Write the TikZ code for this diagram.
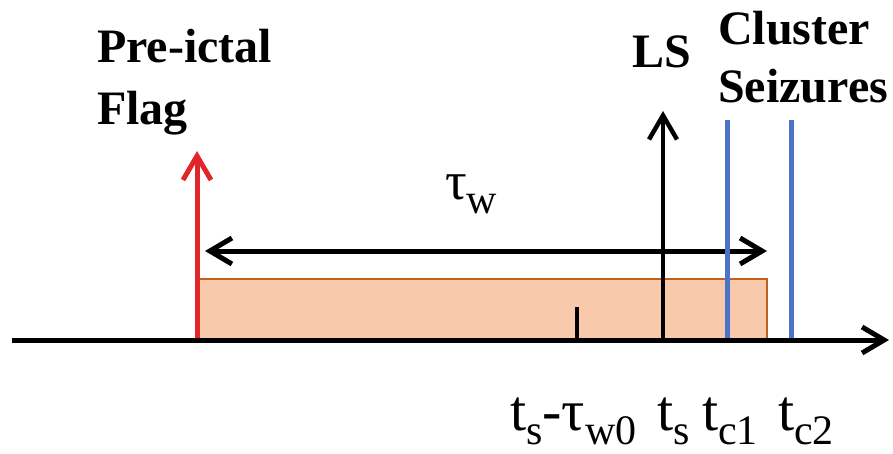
\documentclass[tikz,border=0pt]{standalone}
\usepackage{fontspec}
\setmainfont{Liberation Serif}
\usetikzlibrary{arrows.meta}
\definecolor{flagred}{HTML}{E0252B}
\definecolor{clblue}{HTML}{4A74C8}
\definecolor{winfill}{HTML}{F8C9AA}
\definecolor{winedge}{HTML}{C0601E}
\newcommand{\lowsub}[1]{\raisebox{-0.25em}{\fontsize{42}{42}\selectfont #1}}
\begin{document}
\begin{tikzpicture}[x=1pt,y=-1pt,
  lbl/.style={inner sep=0pt,anchor=base west,font=\fontsize{48}{48}\selectfont\bfseries},
  tlbl/.style={inner sep=0pt,anchor=base west,font=\fontsize{58}{58}\selectfont},
  barb/.style={-{Straight Barb[length=24pt,width=28pt]}},
  dbarb/.style={{Straight Barb[length=22pt,width=26pt]}-{Straight Barb[length=22pt,width=26pt]}}]
\useasboundingbox (0,0) rectangle (893,454);
% coordinates
\coordinate (axL) at (12,340);
\coordinate (axR) at (889,340);
\coordinate (flagB) at (197,340);
\coordinate (flagT) at (197,151);
\coordinate (lsB) at (663,340);
\coordinate (lsT) at (663,111);
\coordinate (c1B) at (727,340);
\coordinate (c1T) at (727,120);
\coordinate (c2B) at (791,340);
\coordinate (c2T) at (791,120);
\coordinate (tickB) at (577,340);
\coordinate (tickT) at (577,307);
\coordinate (wL) at (205,251);
\coordinate (wR) at (767,251);
% window rectangle
\draw[fill=winfill,draw=winedge,line width=2.5pt] (197,279) rectangle (767,340);
% tau_w double arrow
\draw[dbarb,line width=5pt] (wL) -- (wR);
% LS arrow
\draw[barb,line width=4.5pt] (lsB) -- (lsT);
% cluster seizures
\draw[clblue,line width=5pt] (c1B) -- (c1T);
\draw[clblue,line width=5pt] (c2B) -- (c2T);
% tick
\draw[line width=3.5pt] (tickB) -- (tickT);
% pre-ictal flag
\draw[barb,flagred,line width=5pt] (flagB) -- (flagT);
% time axis
\draw[-{Straight Barb[length=22pt,width=26pt]},line width=5pt] (axL) -- (axR);
% labels
\node[lbl] (pre) at (97,63) {Pre-ictal};
\node[lbl] (flag) at (97,125) {Flag};
\node[lbl] (ls) at (632,68) {LS};
\node[lbl] (clu) at (718,45) {Cluster};
\node[lbl] (sei) at (718,103) {Seizures};
\node[tlbl,font=\fontsize{54}{54}\selectfont] (tw) at (445,200) {τ\lowsub{w}};
\node[tlbl] (t1) at (510,430) {t\lowsub{s}-τ\lowsub{w0}};
\node[tlbl] (t2) at (657,430) {t\lowsub{s}};
\node[tlbl] (t3) at (702,430) {t\lowsub{c1}};
\node[tlbl] (t4) at (778,430) {t\lowsub{c2}};
\end{tikzpicture}
\end{document}
